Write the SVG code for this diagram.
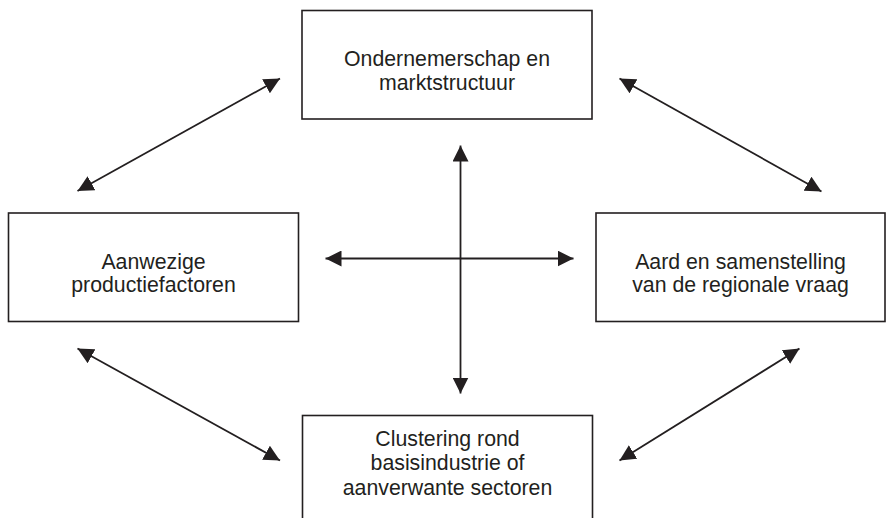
<svg xmlns="http://www.w3.org/2000/svg" width="886" height="518" viewBox="0 0 886 518">
  <style>
    .box { fill: #ffffff; stroke: #231f20; stroke-width: 1.6; }
    .lbl { font-family: "Liberation Sans", Arial, sans-serif; font-size: 21.3px; fill: #231f20; text-anchor: middle; }
    .conn { stroke: #231f20; stroke-width: 1.8; fill: none; marker-start: url(#ah); marker-end: url(#ah); }
  </style>
  <defs>
    <marker id="ah" markerUnits="userSpaceOnUse" markerWidth="16" markerHeight="16" viewBox="0 0 15 15" refX="15" refY="7.5" orient="auto-start-reverse">
      <path d="M0,0 L15,7.5 L0,15 Z" fill="#231f20"/>
    </marker>
  </defs>
  <rect width="886" height="518" fill="#ffffff"/>
  <g id="connectors">
    <line class="conn" x1="77.5" y1="191" x2="280" y2="78.5"/>
    <line class="conn" x1="619.5" y1="78.5" x2="821.5" y2="191.5"/>
    <line class="conn" x1="77.5" y1="348.5" x2="280" y2="460.5"/>
    <line class="conn" x1="799.5" y1="348.5" x2="619.5" y2="460.5"/>
    <line class="conn" x1="325.5" y1="258.5" x2="573.5" y2="258.5"/>
    <line class="conn" x1="460.5" y1="145.5" x2="460.5" y2="393.5"/>
  </g>
  <g id="node-ondernemerschap">
    <rect class="box" x="302" y="10.5" width="290" height="108.5"/>
    <text class="lbl" x="447" y="65.5">Ondernemerschap en</text>
    <text class="lbl" x="447" y="90">marktstructuur</text>
  </g>
  <g id="node-productiefactoren">
    <rect class="box" x="8.5" y="213" width="290" height="108.5"/>
    <text class="lbl" x="153.5" y="268.5">Aanwezige</text>
    <text class="lbl" x="153.5" y="292">productiefactoren</text>
  </g>
  <g id="node-vraag">
    <rect class="box" x="596" y="213" width="289" height="108.5"/>
    <text class="lbl" x="740.5" y="268.5">Aard en samenstelling</text>
    <text class="lbl" x="740.5" y="292">van de regionale vraag</text>
  </g>
  <g id="node-clustering">
    <rect class="box" x="302.5" y="415.5" width="290" height="112"/>
    <text class="lbl" x="447.5" y="445.5">Clustering rond</text>
    <text class="lbl" x="447.5" y="470">basisindustrie of</text>
    <text class="lbl" x="447.5" y="494.5">aanverwante sectoren</text>
  </g>
</svg>
